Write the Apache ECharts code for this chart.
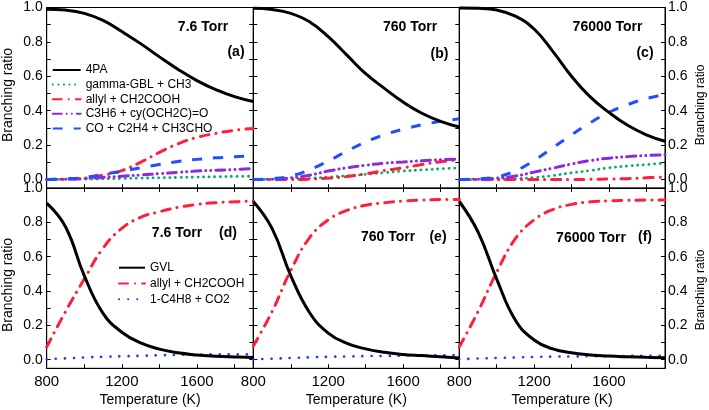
<!DOCTYPE html>
<html><head><meta charset="utf-8">
<script src="https://cdn.jsdelivr.net/npm/echarts@6/dist/echarts.min.js"></script>
<style>html,body{margin:0;padding:0;background:#fff}#c{width:709px;height:410px}</style>
</head><body><div id="c"></div>
<script>
// ---- data ----
const T = [800, 900, 1000, 1100, 1200, 1300, 1400, 1500, 1600, 1700, 1800, 1900];
const xTickLabels = [800, 1200, 1600];
const yTickLabels = [0, 0.2, 0.4, 0.6, 0.8, 1.0];
const topNames = ['4PA', 'gamma-GBL + CH3', 'allyl + CH2COOH', 'C3H6 + cy(OCH2C)=O', 'CO + C2H4 + CH3CHO'];
const botNames = ['GVL', 'allyl + CH2COOH', '1-C4H8 + CO2'];
const pressures = ['7.6 Torr', '760 Torr', '76000 Torr'];
const panelTags = ['(a)', '(b)', '(c)', '(d)', '(e)', '(f)'];

// (a) 7.6 Torr
const a4PA   = [0.99, 0.985, 0.966, 0.925, 0.86, 0.79, 0.713, 0.64, 0.575, 0.522, 0.482, 0.453];
const aGBL   = [0.0, 0.001, 0.002, 0.004, 0.006, 0.008, 0.010, 0.012, 0.014, 0.016, 0.018, 0.019];
const aAllyl = [0.0, 0.002, 0.008, 0.025, 0.052, 0.10, 0.158, 0.208, 0.245, 0.268, 0.286, 0.297];
const aC3H6  = [0.0, 0.002, 0.006, 0.012, 0.019, 0.026, 0.034, 0.042, 0.049, 0.054, 0.058, 0.063];
const aCO    = [0.0, 0.004, 0.012, 0.03, 0.048, 0.068, 0.087, 0.105, 0.117, 0.126, 0.132, 0.139];
// (b) 760 Torr
const b4PA   = [0.995, 0.988, 0.966, 0.917, 0.83, 0.723, 0.615, 0.53, 0.45, 0.385, 0.338, 0.305];
const bGBL   = [0.0, 0.001, 0.003, 0.007, 0.014, 0.022, 0.030, 0.040, 0.049, 0.056, 0.062, 0.068];
const bAllyl = [0.0, 0.0, 0.0, 0.002, 0.008, 0.017, 0.033, 0.052, 0.068, 0.087, 0.103, 0.115];
const bC3H6  = [0.0, 0.002, 0.010, 0.025, 0.049, 0.068, 0.083, 0.095, 0.102, 0.109, 0.115, 0.118];
const bCO    = [0.0, 0.005, 0.020, 0.056, 0.107, 0.165, 0.218, 0.26, 0.292, 0.318, 0.338, 0.353];
// (c) 76000 Torr
const c4PA   = [0.997, 0.995, 0.985, 0.95, 0.875, 0.745, 0.60, 0.48, 0.39, 0.315, 0.26, 0.222];
const cGBL   = [0.0, 0.0, 0.001, 0.004, 0.012, 0.023, 0.039, 0.052, 0.068, 0.078, 0.087, 0.095];
const cAllyl = [0.0, 0.0, 0.0, 0.0, 0.0, 0.0, 0.0, 0.001, 0.003, 0.005, 0.010, 0.014];
const cC3H6  = [0.0, 0.002, 0.008, 0.020, 0.043, 0.066, 0.090, 0.110, 0.124, 0.133, 0.139, 0.144];
const cCO    = [0.0, 0.004, 0.015, 0.05, 0.11, 0.185, 0.26, 0.33, 0.39, 0.435, 0.47, 0.495];
// (d) 7.6 Torr
const dGVL   = [0.913, 0.775, 0.49, 0.27, 0.16, 0.098, 0.062, 0.04, 0.027, 0.02, 0.016, 0.013];
const dAllyl = [0.075, 0.28, 0.47, 0.65, 0.765, 0.83, 0.862, 0.888, 0.905, 0.915, 0.92, 0.925];
const dC4H8  = [0.003, 0.008, 0.013, 0.017, 0.020, 0.023, 0.026, 0.028, 0.030, 0.031, 0.031, 0.031];
// (e) 760 Torr
const eGVL   = [0.922, 0.765, 0.49, 0.275, 0.155, 0.095, 0.063, 0.043, 0.031, 0.024, 0.017, 0.01];
const eAllyl = [0.08, 0.28, 0.52, 0.71, 0.815, 0.87, 0.90, 0.915, 0.925, 0.93, 0.933, 0.934];
const eC4H8  = [0.002, 0.006, 0.010, 0.014, 0.017, 0.019, 0.021, 0.022, 0.024, 0.025, 0.026, 0.027];
// (f) 76000 Torr
const fGVL   = [0.922, 0.745, 0.47, 0.23, 0.115, 0.063, 0.04, 0.028, 0.021, 0.017, 0.014, 0.012];
const fAllyl = [0.075, 0.28, 0.51, 0.705, 0.815, 0.875, 0.905, 0.92, 0.926, 0.929, 0.93, 0.93];
const fC4H8  = [0.003, 0.007, 0.010, 0.013, 0.016, 0.018, 0.019, 0.020, 0.021, 0.022, 0.023, 0.023];

// ---- layout & styles ----
const FONT = '"Liberation Sans", Arial, sans-serif';
const cols = [[46.7, 206.6], [253.3, 206], [459.3, 205.7]];
const rows = [[7.5, 180.6], [188.1, 180.2]];
const styles = {
  black:  {color: '#000000', width: 3, type: 'solid'},
  green:  {color: '#00A86B', width: 2.8, type: [0.1, 5.5], cap: 'round'},
  red:    {color: '#FF1E3C', width: 3, type: [9, 7, 0.1, 7], cap: 'round'},
  purple: {color: '#8A2BE2', width: 3, type: [9, 5, 0.1, 5, 0.1, 5], cap: 'round'},
  blue:   {color: '#1F4FFF', width: 3, type: [10, 11], cap: 'butt'},
  bdot:   {color: '#1A3CFF', width: 2.6, type: [0.1, 9], cap: 'round'}
};

const grids = [], xAxes = [], yAxes = [], series = [];
const yTicks = [0, 0.1, 0.2, 0.3, 0.4, 0.5, 0.6, 0.7, 0.8, 0.9, 1.0];
for (let r = 0; r < 2; r++) for (let c = 0; c < 3; c++) {
  grids.push({left: cols[c][0], top: rows[r][0], width: cols[c][1], height: rows[r][1],
    show: true, borderColor: '#000', borderWidth: 1, backgroundColor: 'transparent', outerBoundsMode: 'none'});
}
for (let g = 0; g < 6; g++) {
  const bottomRow = g >= 3;
  xAxes.push({type: 'value', gridIndex: g, min: 800, max: 1900, interval: 200, position: 'bottom',
    axisLine: {show: true, onZero: false, lineStyle: {color: '#000', width: 1}},
    axisTick: {show: true, inside: true, length: 4, lineStyle: {color: '#000'}},
    axisLabel: {show: bottomRow, margin: 6, fontSize: 15, fontFamily: FONT, color: '#000',
      showMaxLabel: false,
      formatter: v => (xTickLabels.indexOf(v) >= 0 ? String(v) : '')},
    splitLine: {show: false},
    name: bottomRow ? 'Temperature (K)' : '', nameLocation: 'middle', nameGap: 25,
    nameTextStyle: {fontSize: 14, fontFamily: FONT, color: '#000'}});
  const col = g % 3;
  yAxes.push({type: 'value', gridIndex: g, min: -0.05, max: 1.0, position: col === 2 ? 'right' : 'left',
    axisLine: {show: true, onZero: false, lineStyle: {color: '#000', width: 1}},
    axisTick: {show: true, inside: true, length: 4, customValues: yTicks, lineStyle: {color: '#000'}},
    axisLabel: {show: col !== 1, margin: col === 2 ? 3 : 4, fontSize: 14, fontFamily: FONT, color: '#000',
      customValues: yTickLabels, formatter: v => v.toFixed(1)},
    splitLine: {show: false}});
}
for (let g = 3; g < 6; g++) {
  xAxes.push({type: 'value', gridIndex: g, min: 800, max: 1900, interval: 200, position: 'top',
    axisLine: {show: true, onZero: false, lineStyle: {color: '#000'}},
    axisTick: {show: true, inside: true, length: 4, lineStyle: {color: '#000'}},
    axisLabel: {show: false}, splitLine: {show: false}});
}
[0, 1, 3, 4].forEach(g => {
  yAxes.push({type: 'value', gridIndex: g, min: -0.05, max: 1.0, position: 'right',
    axisLine: {show: true, onZero: false, lineStyle: {color: '#000'}},
    axisTick: {show: true, inside: true, length: 4, customValues: yTicks, lineStyle: {color: '#000'}},
    axisLabel: {show: false}, splitLine: {show: false}});
});

function addLine(name, vals, g, st, z) {
  series.push({type: 'line', name: name, xAxisIndex: g, yAxisIndex: g,
    data: T.map((t, i) => [t, vals[i]]), symbol: 'none', showSymbol: false, legendIcon: 'none',
    smooth: 0.45, clip: true, silent: true, z: z,
    color: st.color, itemStyle: {color: st.color}, lineStyle: st});
}
const topSets = [[a4PA, aGBL, aAllyl, aC3H6, aCO], [b4PA, bGBL, bAllyl, bC3H6, bCO], [c4PA, cGBL, cAllyl, cC3H6, cCO]];
const topStyles = [styles.black, styles.green, styles.red, styles.purple, styles.blue];
topSets.forEach((set, g) => {
  for (let k = 1; k < 5; k++) addLine(topNames[k], set[k], g, topStyles[k], 2 + k);
  addLine(topNames[0], set[0], g, topStyles[0], 8);
});
const botSets = [[dGVL, dAllyl, dC4H8], [eGVL, eAllyl, eC4H8], [fGVL, fAllyl, fC4H8]];
const botStyles = [styles.black, styles.red, styles.bdot];
botSets.forEach((set, i) => {
  const g = i + 3;
  addLine(botNames[1], set[1], g, botStyles[1], 3);
  addLine(botNames[2], set[2], g, botStyles[2], 4);
  addLine(botNames[0], set[0], g, botStyles[0], 8);
});

const txt = (s, x, y, size, bold, rot) => ({type: 'text', x: x, y: y, rotation: rot || 0, silent: true, z: 20,
  style: {text: s, x: 0, y: 0, align: 'center', verticalAlign: 'middle', fill: '#000',
    font: (bold ? 'bold ' : '') + size + 'px ' + FONT}});
const graphics = [
  txt(pressures[0], 203, 27, 14, true), txt(panelTags[0], 236, 52, 14, true),
  txt(pressures[1], 410, 27, 14, true), txt(panelTags[1], 439.5, 54, 14, true),
  txt(pressures[2], 607.5, 27, 14, true), txt(panelTags[2], 645, 53, 14, true),
  txt(pressures[0], 177, 233, 14, true), txt(panelTags[3], 228, 233, 14, true),
  txt(pressures[1], 388, 237.5, 14, true), txt(panelTags[4], 438, 237, 14, true),
  txt(pressures[2], 591, 238, 14, true), txt(panelTags[5], 645, 237, 14, true),
  txt('Branching ratio', 8, 95, 14, false, Math.PI / 2),
  txt('Branching ratio', 8, 285, 14, false, Math.PI / 2),
  txt('Branching ratio', 701, 105, 12, false, Math.PI / 2),
  txt('Branching ratio', 701, 290, 12, false, Math.PI / 2)
];

const chart = echarts.init(document.getElementById('c'), null, {renderer: 'canvas'});
chart.setOption({
  animation: false,
  backgroundColor: '#fff',
  grid: grids, xAxis: xAxes, yAxis: yAxes, series: series,
  legend: [
    {data: topNames, orient: 'vertical', left: 51.7, top: 64, itemWidth: 28, itemHeight: 12, itemGap: 2.6,
      selectedMode: false, padding: 0, itemStyle: {opacity: 0, borderWidth: 0},
      textStyle: {fontSize: 12, fontFamily: FONT, color: '#000', lineHeight: 12}},
    {data: botNames, orient: 'vertical', left: 118, top: 261.7, itemWidth: 26, itemHeight: 12, itemGap: 3.8,
      selectedMode: false, padding: 0, itemStyle: {opacity: 0, borderWidth: 0},
      textStyle: {fontSize: 12, fontFamily: FONT, color: '#000', lineHeight: 12}}
  ],
  graphic: graphics
});
</script></body></html>
